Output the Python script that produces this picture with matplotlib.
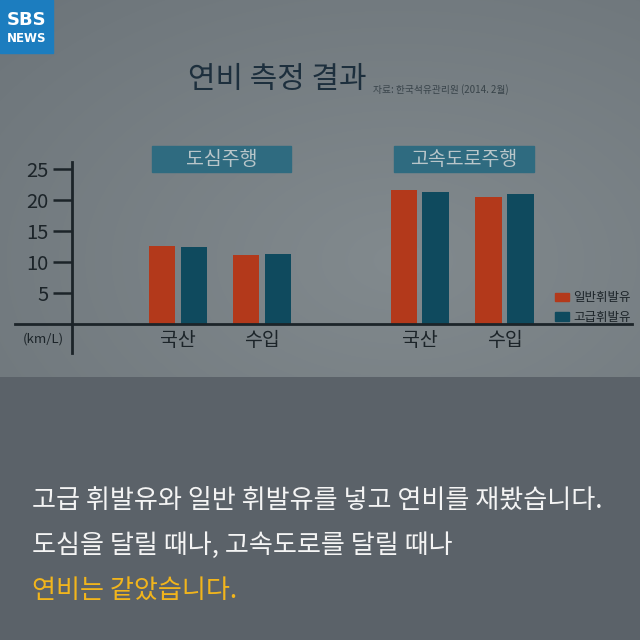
import matplotlib.pyplot as plt
from matplotlib.patches import Rectangle, Patch
import numpy as np

plt.rcParams['font.family'] = ['Noto Sans CJK KR', 'DejaVu Sans']

# data (km/L)
groups = ['도심주행', '고속도로주행']
categories = ['국산', '수입', '국산', '수입']
positions = [0.0, 1.0, 2.88, 3.89]
regular = [12.6, 11.1, 21.6, 20.5]   # 일반휘발유
premium = [12.5, 11.3, 21.3, 21.0]   # 고급휘발유
series_names = ['일반휘발유', '고급휘발유']
yticks = [5, 10, 15, 20, 25]

title = '연비 측정 결과'
source = '자료: 한국석유관리원 (2014. 2월)'
caption = ['고급 휘발유와 일반 휘발유를 넣고 연비를 재봤습니다.',
           '도심을 달릴 때나, 고속도로를 달릴 때나',
           '연비는 같았습니다.']

ORANGE = '#b3391b'
TEAL = '#0f4a5e'
BOX = '#2f6b80'
INK = '#1c2429'

W = H = 640
fig = plt.figure(figsize=(6.4, 6.4), dpi=100)

# background: vignetted photo panel on top, flat grey panel below
bg = fig.add_axes([0, 0, 1, 1])
yy, xx = np.mgrid[0:H, 0:W]
r = np.sqrt(((xx - 400) / 520.0) ** 2 + ((yy - 260) / 330.0) ** 2)
photo = np.clip(1 - 0.55 * r, 0, 1)
top = np.array([0x5e, 0x66, 0x6c]) / 255
mid = np.array([0x82, 0x8a, 0x8e]) / 255
img = top + (mid - top) * photo[..., None]
img[377:] = np.array([0x5b, 0x62, 0x69]) / 255
bg.imshow(img, extent=[0, W, H, 0], aspect='auto')
bg.set_xlim(0, W)
bg.set_ylim(H, 0)
bg.axis('off')

# SBS logo
bg.add_patch(Rectangle((0, 0), 53, 53, color='#1c7dbf'))
bg.text(27, 20, 'SBS', color='white', fontsize=13, fontweight='bold',
        ha='center', va='center', family='DejaVu Sans')
bg.text(27, 38, 'NEWS', color='white', fontsize=8.5, fontweight='bold',
        ha='center', va='center', family='DejaVu Sans')

# title + source
bg.text(277, 79, title, color='#1d2f3d', fontsize=21.5, ha='center', va='center')
bg.text(373, 90, source, color='#39444a', fontsize=7, ha='left', va='center')

# caption
for i, line in enumerate(caption):
    bg.text(32, 500 + 45 * i, line, color='#f2b51c' if i == 2 else '#f4f4f4',
            fontsize=18.8, ha='left', va='center')

# chart axes: left edge at the y axis line
x0, x1 = 72, 640
y_top, y_bot = 140, 360
ax = fig.add_axes([x0 / W, 1 - y_bot / H, (x1 - x0) / W, (y_bot - y_top) / H])
ax.patch.set_alpha(0)
px_per_unit = 6.2
zero_px = 324
ax.set_ylim((zero_px - y_bot) / px_per_unit, (zero_px - y_top) / px_per_unit)
unit = 84.0
ax.set_xlim((x0 - 178) / unit, (x1 - 178) / unit)

pos = np.array(positions)
w = 0.32
off = 0.19
ax.bar(pos - off, regular, width=w, color=ORANGE, label=series_names[0])
ax.bar(pos + off, premium, width=w, color=TEAL, label=series_names[1])

for s in ['top', 'right', 'bottom']:
    ax.spines[s].set_visible(False)
ax.spines['left'].set_color(INK)
ax.spines['left'].set_linewidth(2)
ax.spines['left'].set_bounds(-4.7, 26.1)
ax.set_yticks(yticks)
ax.set_yticklabels([str(t) for t in yticks])
ax.tick_params(axis='y', direction='out', length=14, width=1.8, color=INK,
               pad=3, labelsize=14.5, labelcolor=INK)
ax.set_xticks([])

# baseline
ax.plot([(15 - 178) / unit, (632 - 178) / unit], [0, 0], color=INK, lw=2,
        clip_on=False)
ax.text((43 - 178) / unit, -2.4, '(km/L)', color=INK, fontsize=9.5,
        ha='center', va='center')

for p, c in zip(pos, categories):
    ax.text(p, -2.7, c, color=INK, fontsize=14, ha='center', va='center')

# group header boxes
for g, (a, b) in zip(groups, [(pos[0], pos[1]), (pos[2], pos[3])]):
    lo, hi = a - 0.31, b + 0.345
    ax.add_patch(Rectangle((lo, 24.5), hi - lo, 4.2, color=BOX, clip_on=False))
    ax.text((lo + hi) / 2, 26.6, g, color='#b9c6ca', fontsize=14,
            ha='center', va='center')

ax.legend(handles=[Patch(color=ORANGE), Patch(color=TEAL)], labels=series_names,
          loc='upper left', bbox_to_anchor=(549 / W, 1 - 285 / H),
          bbox_transform=fig.transFigure, frameon=False, fontsize=9,
          handlelength=1.1, handleheight=0.7, handletextpad=0.35,
          labelspacing=0.55, labelcolor=INK, borderpad=0)

fig.savefig('out.png', dpi=100)
